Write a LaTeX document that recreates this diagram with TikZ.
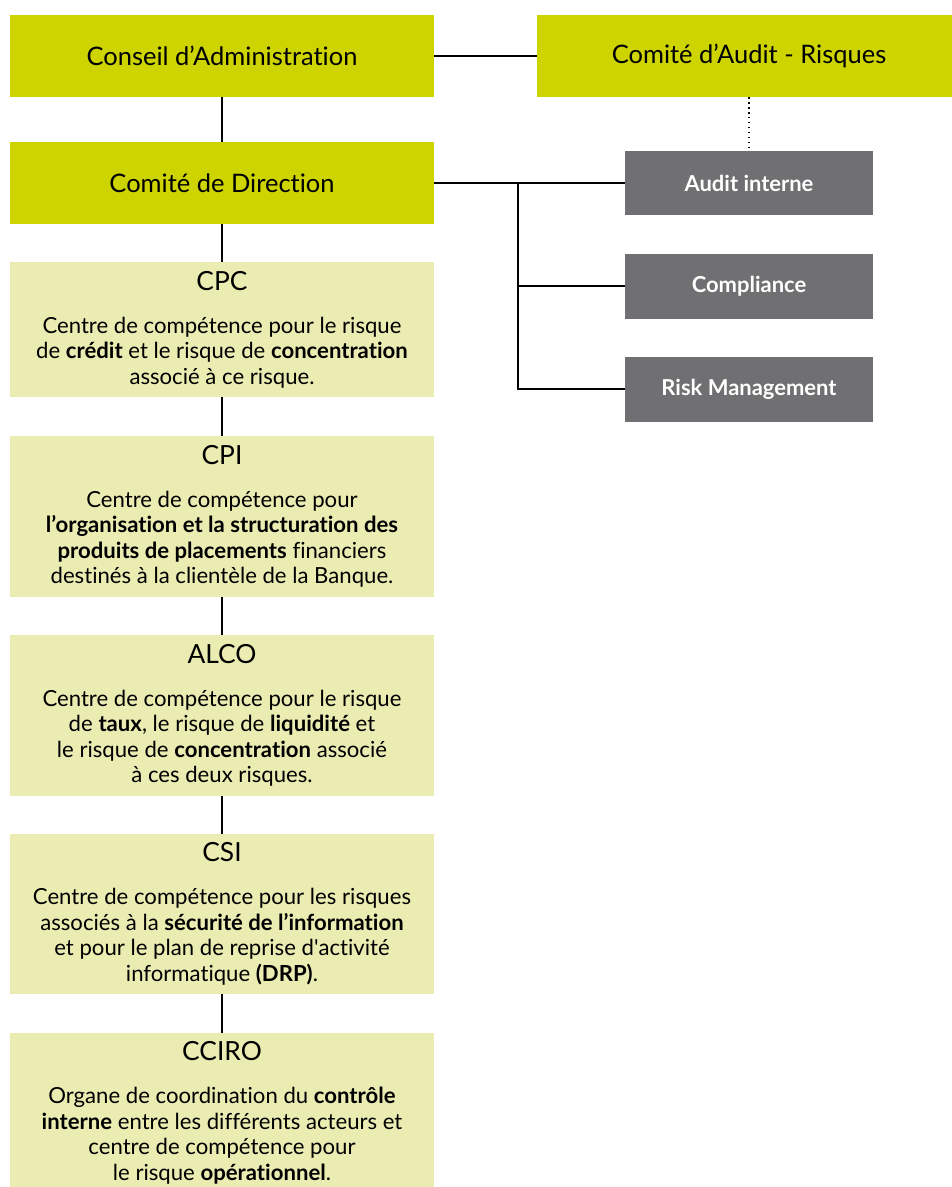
\documentclass[tikz,border=0pt]{standalone}
\usepackage{fontspec}
\setmainfont[Ligatures=NoCommon]{Lato}
\usepackage{xcolor}
\usetikzlibrary{positioning}

\definecolor{boxlime}{RGB}{206,212,0}
\definecolor{boxpale}{RGB}{234,236,178}
\definecolor{boxgrey}{RGB}{112,112,114}

\newcommand{\ttl}{\fontsize{15}{18}\selectfont}

\begin{document}
\begin{tikzpicture}[x=0.02cm, y=-0.02cm,
    organe/.style={fill=boxlime, minimum width=8.48cm, minimum height=1.64cm, inner sep=0pt, font=\fontsize{14.5}{17}\selectfont},
    comite/.style={fill=boxpale, minimum width=8.48cm, inner sep=0pt, align=center, font=\fontsize{12.6}{14.5}\selectfont},
    fonction/.style={fill=boxgrey, text=white, minimum width=4.96cm, minimum height=1.3cm, inner sep=0pt, font=\bfseries\fontsize{12.5}{15}\selectfont},
    lien/.style={line width=1pt}]
    \useasboundingbox (0,0) rectangle (951,1187);

    % organes
    \node[organe] (ca) at (222,56) {Conseil d’Administration};
    \node[organe] (car) at (749,56) {Comité d’Audit - Risques};
    \node[organe] (cd) at (222,183) {Comité de Direction};

    % fonctions de controle
    \node[fonction] (ai) at (749,183) {Audit interne};
    \node[fonction] (comp) at (749,286) {Compliance};
    \node[fonction] (rm) at (749,389) {Risk Management};

    % comites
    \node[comite, minimum height=2.7cm] (cpc) at (222,329.5) {{\ttl CPC}\\[10pt]
      Centre de compétence pour le risque\\
      de \textbf{crédit} et le risque de \textbf{concentration}\\
      associé à ce risque.};
    \node[comite, minimum height=3.22cm] (cpi) at (222,516.5) {{\ttl CPI}\\[10pt]
      Centre de compétence pour\\
      \textbf{l’organisation et la structuration des}\\
      \textbf{produits de placements} financiers\\
      destinés à la clientèle de la Banque.};
    \node[comite, minimum height=3.22cm] (alco) at (222,715.5) {{\ttl ALCO}\\[10pt]
      Centre de compétence pour le risque\\
      de \textbf{taux}, le risque de \textbf{liquidité} et\\
      le risque de \textbf{concentration} associé\\
      à ces deux risques.};
    \node[comite, minimum height=3.2cm] (csi) at (222,914) {{\ttl CSI}\\[10pt]
      Centre de compétence pour les risques\\
      associés à la \textbf{sécurité de l’information}\\
      et pour le plan de reprise d\textquotesingle activité\\
      informatique \textbf{(DRP)}.};
    \node[comite, minimum height=3.2cm] (cciro) at (222,1113) {{\ttl CCIRO}\\[10pt]
      Organe de coordination du \textbf{contrôle}\\
      \textbf{interne} entre les différents acteurs et\\
      centre de compétence pour\\
      le risque \textbf{opérationnel}.};

    % liaisons
    \draw[lien] (ca) -- (car);
    \draw[lien] (ca) -- (cd);
    \draw[dotted, line width=0.8pt] (car) -- (ai);
    \draw[lien] (cd) -- (ai);
    \coordinate (br) at (518,183);
    \draw[lien] (br) |- (rm);
    \draw[lien] (br |- comp) -- (comp);
    \draw[lien] (cd) -- (cpc);
    \draw[lien] (cpc) -- (cpi);
    \draw[lien] (cpi) -- (alco);
    \draw[lien] (alco) -- (csi);
    \draw[lien] (csi) -- (cciro);
\end{tikzpicture}
\end{document}
